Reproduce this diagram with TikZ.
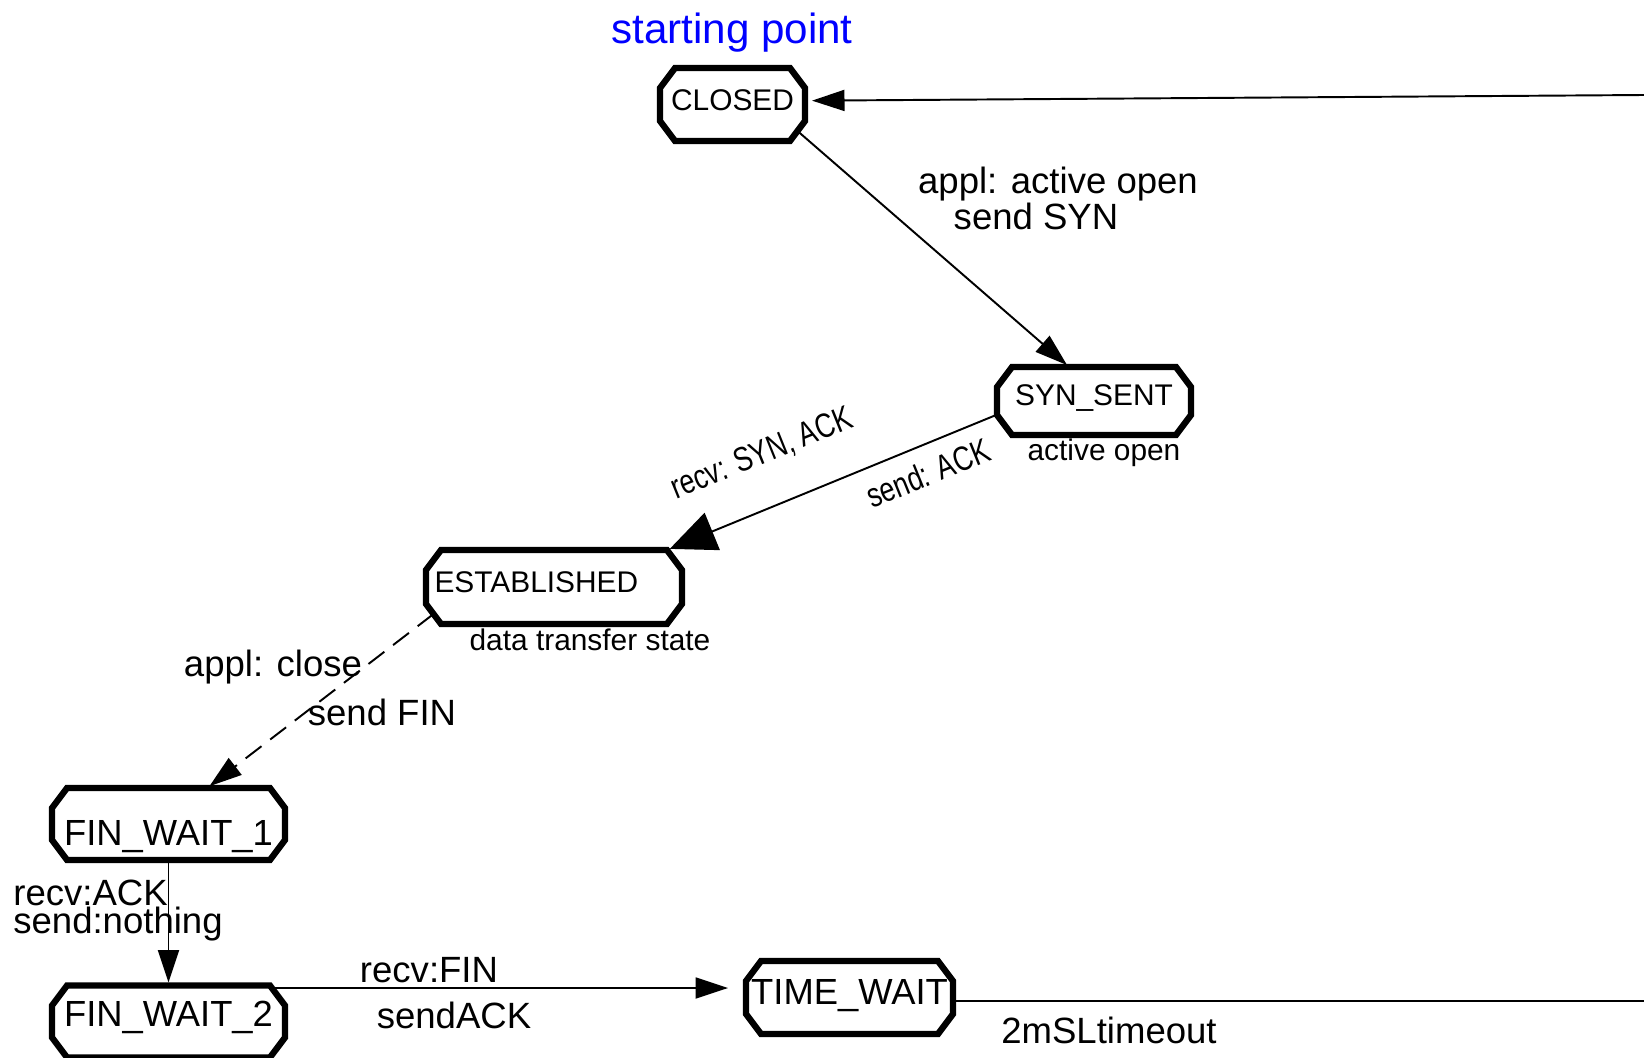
\documentclass[tikz,border=0pt]{standalone}
\usepackage{fontspec}
\setmainfont{Liberation Sans}
\usetikzlibrary{arrows.meta}

\tikzset{
  state/.style={rectangle, inner sep=0pt, outer sep=0pt, text height=12.2pt, text depth=0pt,
    font=\fontsize{17}{20}\selectfont},
  bigstate/.style={state, text height=14.9pt, font=\fontsize{20.7}{24}\selectfont},
  border/.style={line width=3.6pt},
  conn/.style={line width=1.1pt},
  arr/.style={conn, -{Triangle[length=0.65cm,width=0.42cm]}, shorten >=1.7pt},
  bigarr/.style={conn, -{Triangle[length=0.92cm,width=0.8cm]}, shorten >=1.7pt},
  lbl/.style={inner sep=0pt, font=\fontsize{20.8}{24}\selectfont},
  note/.style={inner sep=0pt, font=\fontsize{17}{20}\selectfont},
  slanted/.style={note, font=\fontsize{19.5}{22}\selectfont, rotate=22, xscale=0.78}
}

\begin{document}
\begin{tikzpicture}[x=0.02cm,y=-0.02cm]
  \useasboundingbox (0,0) rectangle (1644,1058);

  %states
  \node[state, minimum width=2.9cm, minimum height=1.46cm, text depth=0.18cm] (closed) at (732.5,104.5) {CLOSED};
  \node[state, minimum width=3.88cm, minimum height=1.36cm, text depth=0.24cm] (synsent) at (1094,401) {SYN\_SENT};
  \node[state, minimum width=5.12cm, minimum height=1.48cm, text depth=0.2cm,
        inner xsep=0.17cm, text width=4.78cm, align=left] (established) at (554,587) {ESTABLISHED};
  \node[bigstate, minimum width=4.66cm, minimum height=1.44cm, text height=24pt] (finwait1) at (168.5,824) {FIN\_WAIT\_1};
  \node[bigstate, minimum width=4.66cm, minimum height=1.44cm, text depth=0.32cm] (finwait2) at (168.5,1021.5) {FIN\_WAIT\_2};
  \node[bigstate, minimum width=4.14cm, minimum height=1.46cm, text depth=0.26cm] (timewait) at (849.5,997.5) {TIME\_WAIT};

  %octagon borders
  \foreach \s in {closed,synsent,established,finwait1,finwait2,timewait}
    \draw[border] ([xshift=0.3cm]\s.north west) -- ([xshift=-0.3cm]\s.north east)
      -- ([yshift=-0.4cm]\s.north east) -- ([yshift=0.4cm]\s.south east)
      -- ([xshift=-0.3cm]\s.south east) -- ([xshift=0.3cm]\s.south west)
      -- ([yshift=0.4cm]\s.south west) -- ([yshift=-0.4cm]\s.north west) -- cycle;

  %ends at the right border
  \coordinate (rtop) at (1644,95);
  \coordinate (rbot) at (1644,1001);

  %transitions
  \draw[arr, shorten >=4pt] (rtop) -- (closed.3);
  \draw[arr] ([xshift=-0.15cm,yshift=0.2cm]closed.south east) -- (synsent.126);
  \draw[bigarr] (synsent.188) -- ([xshift=-0.3cm]established.north east);
  \draw[arr, dash pattern=on 0.4cm off 0.22cm] ([xshift=0.15cm,yshift=0.2cm]established.south west) -- (finwait1.43);
  \draw[arr] (finwait1) -- (finwait2);
  \draw[arr] ([xshift=-0.3cm,yshift=-0.05cm]finwait2.north east) -- ([xshift=-0.3cm,yshift=-0.05cm]finwait2.north east -| timewait.west);
  \draw[conn] (timewait.east |- rbot) -- (rbot);

  %titles
  \node[inner sep=0pt, text=blue, font=\fontsize{24}{28}\selectfont] (start) at (732,33) {starting point};

  %text on the transitions
  \node[lbl] (l1) at (1058,184) {appl: active open};
  \node[lbl] (l2) at (1036,216) {send SYN};
  \node[slanted] (l3) at (762,454) {recv: SYN, ACK};
  \node[slanted] (l4) at (928,473) {send: ACK};
  \node[note] (n1) at (1104,453) {active open};
  \node[note] (n2) at (590,640) {data transfer state};
  \node[lbl] (l5) at (273,667) {appl: close};
  \node[lbl] (l6) at (382,712) {send FIN};
  \node[lbl, anchor=west] (l7) at (13,893) {recv:ACK};
  \node[lbl, anchor=west] (l8) at (13,924) {send:nothing};
  \node[lbl] (l9) at (429,970) {recv:FIN};
  \node[lbl] (l10) at (454,1015) {sendACK};
  \node[lbl] (l11) at (1109,1030) {2mSLtimeout};

\end{tikzpicture}
\end{document}
